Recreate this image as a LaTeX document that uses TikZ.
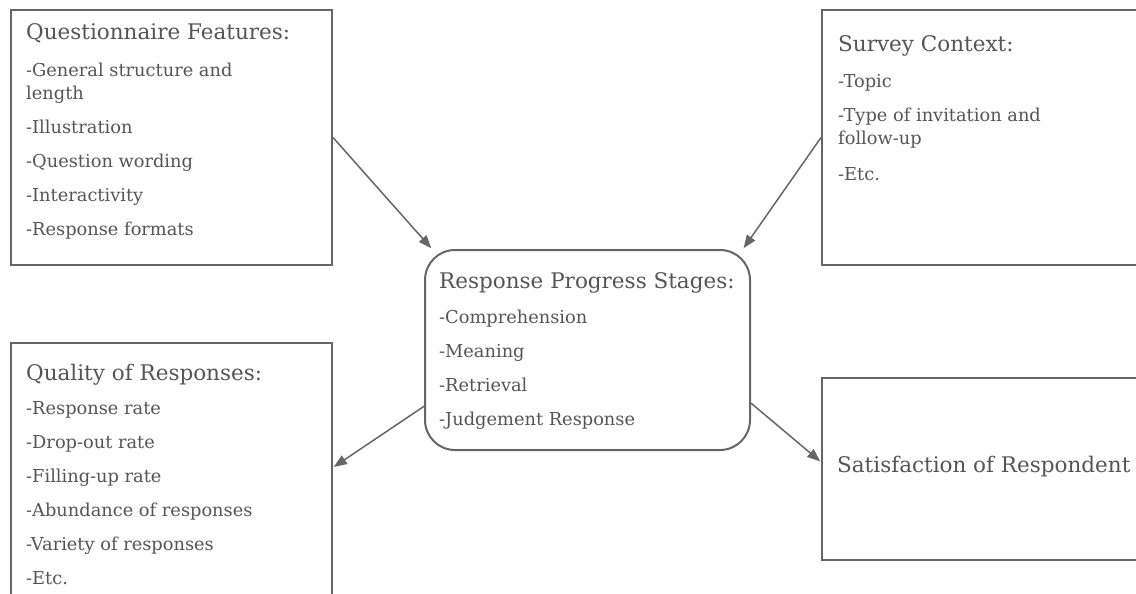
\documentclass[tikz,border=0pt]{standalone}
\usepackage{fontspec}
\setmainfont{DejaVu Serif}
\usepackage{xcolor}
\usepackage{tikz}
\usetikzlibrary{arrows.meta,positioning,calc}

\definecolor{inkgray}{HTML}{555555}
\definecolor{framegray}{HTML}{666666}
\newcommand{\headline}[1]{{\fontsize{21.5}{23}\selectfont #1}}

\begin{document}
\begin{tikzpicture}
  [
  x=1pt,y=1pt,
  panel/.style={rectangle,draw=framegray,line width=2pt,fill=white,inner sep=0pt},
  stagebox/.style={panel,rounded corners=30pt},
  listtext/.style={inner sep=0pt,align=left,text=inkgray,font=\fontsize{17.8}{23}\selectfont},
  link/.style={-{Triangle[length=13pt,width=10pt]},draw=framegray,line width=1.5pt,shorten >=1pt}
  ]
  \clip (0,0) rectangle (1136,-594);
  % boxes
  \node[panel,minimum width=321pt,minimum height=255pt] (features) at (171.5,-137.5) {};
  \node[panel,minimum width=328pt,minimum height=255pt] (context) at (986,-137.5) {};
  \node[stagebox,minimum width=325pt,minimum height=200pt] (stages) at (587.5,-350) {};
  \node[panel,minimum width=321pt,minimum height=267pt] (quality) at (171.5,-476.5) {};
  \node[panel,minimum width=328pt,minimum height=182pt] (satisfaction) at (986,-469) {};
  % texts
  \node[listtext,below right=14pt and 16pt of features.north west] (features text)
    {\headline{Questionnaire Features:}\\[14pt]
     -General structure and\\length\\[11pt]
     -Illustration\\[11pt]
     -Question wording\\[11pt]
     -Interactivity\\[11pt]
     -Response formats};
  \node[listtext,below right=26pt and 17pt of context.north west] (context text)
    {\headline{Survey Context:}\\[13pt]
     -Topic\\[11pt]
     -Type of invitation and\\follow-up\\[13pt]
     -Etc.};
  \node[listtext,below right=23pt and 15pt of stages.north west] (stages text)
    {\headline{Response Progress Stages:}\\[12pt]
     -Comprehension\\[11pt]
     -Meaning\\[11pt]
     -Retrieval\\[11pt]
     -Judgement Response};
  \node[listtext,below right=22pt and 16pt of quality.north west] (quality text)
    {\headline{Quality of Responses:}\\[11pt]
     -Response rate\\[10.5pt]
     -Drop-out rate\\[11pt]
     -Filling-up rate\\[11pt]
     -Abundance of responses\\[11pt]
     -Variety of responses\\[11pt]
     -Etc.};
  \node[listtext,anchor=west] (satisfaction text) at ($(satisfaction.west)+(16,2)$)
    {\headline{Satisfaction of Respondent}};
  % arrows
  \draw[link] (features.east) -- (stages.147);
  \draw[link] (context.west) -- (stages.33);
  \draw[link] (stages.199) -- ([yshift=9pt]quality.east);
  \draw[link] (stages.342) -- ([yshift=7pt]satisfaction.west);
\end{tikzpicture}
\end{document}
